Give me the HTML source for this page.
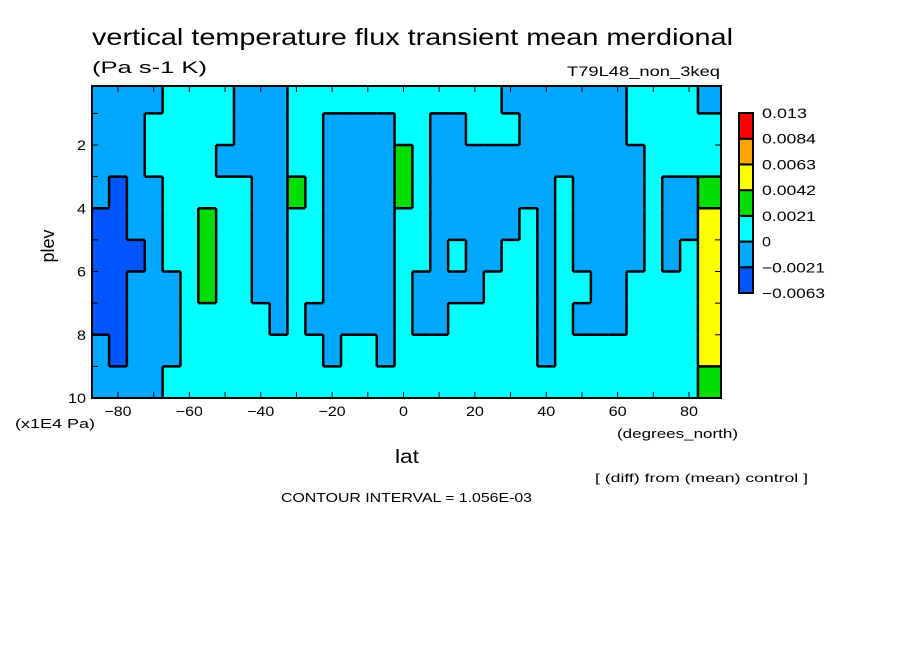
<!DOCTYPE html>
<html><head><meta charset="utf-8"><style>
body{margin:0;background:#fff;}
svg{display:block;font-family:"Liberation Sans",sans-serif;}
</style></head><body>
<svg id="chart" width="904" height="654" viewBox="0 0 904 654">
<rect width="904" height="654" fill="#fff"/>
<text x="92" y="45" font-size="23" textLength="641" lengthAdjust="spacingAndGlyphs" fill="#000">vertical temperature flux transient mean merdional</text>
<text x="92" y="73" font-size="17" textLength="115" lengthAdjust="spacingAndGlyphs" fill="#000">(Pa s-1 K)</text>
<text x="567" y="76" font-size="14" textLength="153" lengthAdjust="spacingAndGlyphs" fill="#000">T79L48_non_3keq</text>
<g id="cells"></g>
<g id="edges"></g>
<rect x="92" y="86" width="629" height="312" fill="none" stroke="#000" stroke-width="2"/>
<g id="axes"></g>
<text transform="translate(54,246) rotate(-90)" font-size="18" text-anchor="middle" textLength="33" lengthAdjust="spacingAndGlyphs">plev</text>
<text x="15" y="428" font-size="13" textLength="80" lengthAdjust="spacingAndGlyphs">(x1E4 Pa)</text>
<text x="617" y="438" font-size="13" textLength="121" lengthAdjust="spacingAndGlyphs">(degrees_north)</text>
<text x="395" y="463" font-size="19" textLength="24" lengthAdjust="spacingAndGlyphs">lat</text>
<text x="595" y="482" font-size="12" textLength="213" lengthAdjust="spacingAndGlyphs">[ (diff) from (mean) control ]</text>
<text x="281" y="502" font-size="13" textLength="251" lengthAdjust="spacingAndGlyphs">CONTOUR INTERVAL = 1.056E-03</text>
<g id="cbar"></g>
</svg>
<script>
// data
const latEdges = [-87.5,-82.5,-77.5,-72.5,-67.5,-62.5,-57.5,-52.5,-47.5,-42.5,-37.5,-32.5,-27.5,-22.5,-17.5,-12.5,-7.5,-2.5,2.5,7.5,12.5,17.5,22.5,27.5,32.5,37.5,42.5,47.5,52.5,57.5,62.5,67.5,72.5,77.5,82.5,87.5,89];
const plevEdges = [0.13,1,2,3,4,5,6,7,8,9,10];
// columns (by lat band) of codes top->bottom; D=-0.004 B=-0.001 C=0.001 G=0.003 Y=0.005
const codeVals = {D:-0.004,B:-0.001,C:0.001,G:0.003,Y:0.005};
const columns = [
"BBBBDDDDBB","BBBDDDDDDB","BBBBBDBBBB","BCCBBBBBBB","CCCCCCBBBC","CCCCCCCCCC",
"CCCCGGGCCC","CCBCCCCCCC","BBBCCCCCCC","BBBBBBBCCC","BBBBBBBBCC","CCCGCCCCCC",
"CCCCCCCBCC","CBBBBBBBBC","CBBBBBBBCC","CBBBBBBBCC","CBBBBBBBBC","CCGGCCCCCC",
"CCCCCCBBCC","CBBBBBBBCC","CBBBBCBCCC","CCBBBBBCCC","CCBBBBCCCC","BCBBBCCCCC",
"BBBBCCCCCC","BBBBBBBBBC","BBBCCCCCCC","BBBBBBCBCC","BBBBBBBBCC","BBBBBBBBCC",
"CCBBBBCCCC","CCCCCCCCCC","CCCBBBCCCC","CCCBBCCCCC","BCCGYYYYYG","BCCGYYYYYG"];
const levels = [-0.0063,-0.0021,0,0.0021,0.0042,0.0063,0.0084,0.013];
const levelLabels = ["-0.0063","-0.0021","0","0.0021","0.0042","0.0063","0.0084","0.013"];
const colors = ["#0055ff","#00a8ff","#00ffff","#00dd00","#ffff00","#ffa500","#ff0000"];
const xTicks = [-80,-60,-40,-20,0,20,40,60,80];
const yTicks = [2,4,6,8,10];

const NS="http://www.w3.org/2000/svg";
const X = lat => 118 + (lat + 80) * (689 - 118) / 160;
const Y = p => 145 + (p - 2) * (398 - 145) / 8;
const band = v => { for (let i=0;i<levels.length-1;i++) if (v < levels[i+1]) return i; return levels.length-2; };
function mk(tag, attrs, parent){ const e=document.createElementNS(NS,tag); for(const k in attrs) e.setAttribute(k,attrs[k]); parent.appendChild(e); return e; }
const cells=document.getElementById('cells'), edges=document.getElementById('edges');
const values = columns.map(c => c.split('').map(ch => codeVals[ch]));
for (let i=0;i<values.length;i++){
  for (let j=0;j<values[i].length;j++){
    const x0=Math.max(92,X(latEdges[i])), x1=Math.min(721,X(latEdges[i+1]));
    const r=mk('rect',{x:x0,y:Y(plevEdges[j]),width:x1-x0+0.5,height:Y(plevEdges[j+1])-Y(plevEdges[j])+0.5,fill:colors[band(values[i][j])]},cells);
    
    
  }
}
for (let i=0;i<values.length;i++){
  for (let j=0;j<values[i].length;j++){
    const b=band(values[i][j]);
    if (i+1<values.length && band(values[i+1][j])!==b){
      const l=mk('line',{x1:X(latEdges[i+1]),x2:X(latEdges[i+1]),y1:Y(plevEdges[j]),y2:Y(plevEdges[j+1]),stroke:'#000','stroke-width':2.5},edges);
      
      
    }
    if (j+1<values[i].length && band(values[i][j+1])!==b){
      const l=mk('line',{x1:Math.max(92,X(latEdges[i])),x2:Math.min(721,X(latEdges[i+1])),y1:Y(plevEdges[j+1]),y2:Y(plevEdges[j+1]),stroke:'#000','stroke-width':2.5},edges);
      
      
    }
  }
}
const axes=document.getElementById('axes');
for (let lat=-80; lat<=80; lat+=10){
  mk('line',{x1:X(lat),x2:X(lat),y1:398,y2:392,stroke:'#000','stroke-width':1},axes);
  mk('line',{x1:X(lat),x2:X(lat),y1:86,y2:92,stroke:'#000','stroke-width':1},axes);
}
xTicks.forEach(t=>{
  const s = t<0 ? '\u2212'+Math.abs(t) : String(t);
  const w = s.length*9;
  const tx=mk('text',{x:X(t),y:416,'font-size':14,'text-anchor':'middle',textLength:w,lengthAdjust:'spacingAndGlyphs'},axes);
  tx.textContent = s;
  
  
});
for (let p=1;p<=10;p++){
  mk('line',{x1:92,x2:98,y1:Y(p),y2:Y(p),stroke:'#000','stroke-width':1},axes);
  mk('line',{x1:715,x2:721,y1:Y(p),y2:Y(p),stroke:'#000','stroke-width':1},axes);
}
yTicks.forEach(t=>{
  const s=String(t);
  const tx=mk('text',{x:86,y:Y(t)+5,'font-size':14,'text-anchor':'end',textLength:s.length*9,lengthAdjust:'spacingAndGlyphs'},axes);
  tx.textContent=s;
  
  
});
const cbar=document.getElementById('cbar');
const cbTop=113, cbBot=293, nb=colors.length, bh=(cbBot-cbTop)/nb;
for (let k=0;k<nb;k++){
  const r=mk('rect',{x:739,y:cbBot-(k+1)*bh,width:14,height:bh,fill:colors[k],stroke:'#000','stroke-width':2},cbar);
  
  
}
levelLabels.forEach((s,k)=>{
  const txt=s.replace('-','\u2212');
  const tx=mk('text',{x:762,y:cbBot-k*bh+5,'font-size':14,textLength:txt.length*9,lengthAdjust:'spacingAndGlyphs'},cbar);
  tx.textContent=txt;
  
  
});
</script>
</body></html>
